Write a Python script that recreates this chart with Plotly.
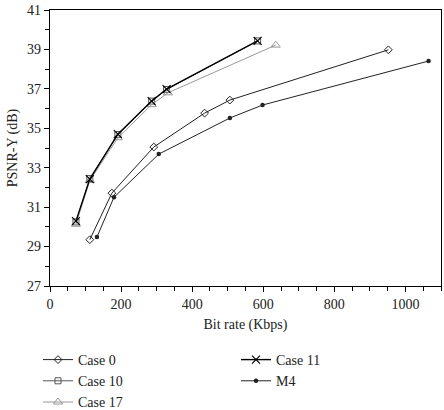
import plotly.graph_objects as go

case0_x = [112, 174, 292, 435, 506, 952]
case0_y = [29.35, 31.71, 34.05, 35.77, 36.43, 38.98]

case10_x = [73, 112, 191, 286, 328, 584]
case10_y = [30.25, 32.45, 34.68, 36.38, 36.97, 39.43]

case17_x = [73, 112, 191, 286, 332, 635]
case17_y = [30.13, 32.35, 34.52, 36.2, 36.8, 39.22]

case11_x = [73, 112, 191, 286, 328, 584]
case11_y = [30.29, 32.42, 34.7, 36.38, 36.99, 39.43]

m4_x = [132, 180, 306, 506, 598, 1065]
m4_y = [29.48, 31.5, 33.69, 35.52, 36.18, 38.41]

FONT = "'Liberation Serif', 'Times New Roman', serif"

fig = go.Figure()
fig.add_trace(go.Scatter(x=case0_x, y=case0_y, name="Case 0", mode="lines+markers",
    line=dict(color="#222", width=1),
    marker=dict(symbol="diamond-open", size=6, color="#222", line=dict(width=1)),
    legend="legend"))
fig.add_trace(go.Scatter(x=case10_x, y=case10_y, name="Case 10", mode="lines+markers",
    line=dict(color="#555", width=1),
    marker=dict(symbol="square-open", size=6, color="#555", line=dict(width=1)),
    legend="legend"))
fig.add_trace(go.Scatter(x=case17_x, y=case17_y, name="Case 17", mode="lines+markers",
    line=dict(color="#999", width=1),
    marker=dict(symbol="triangle-up-open", size=8, color="#999", line=dict(width=1)),
    legend="legend"))
fig.add_trace(go.Scatter(x=case11_x, y=case11_y, name="Case 11", mode="lines+markers",
    line=dict(color="#000", width=1.4),
    marker=dict(symbol="x-thin-open", size=8, color="#000", line=dict(width=1.2)),
    legend="legend2"))
fig.add_trace(go.Scatter(x=m4_x, y=m4_y, name="M4", mode="lines+markers",
    line=dict(color="#222", width=1),
    marker=dict(symbol="circle", size=4.5, color="#222"),
    legend="legend2"))

axis_common = dict(showline=True, linecolor="black", linewidth=1.2, mirror=True,
                   showgrid=False, zeroline=False, ticks="outside", ticklen=5,
                   tickcolor="black", tickwidth=1,
                   tickfont=dict(family=FONT, size=14, color="#222"))

fig.update_xaxes(range=[0, 1100], dtick=200, tick0=0,
                 minor=dict(dtick=50, ticks="outside", ticklen=4, tickcolor="black"),
                 title=dict(text="Bit rate (Kbps)", font=dict(family=FONT, size=14, color="#222"), standoff=8),
                 **axis_common)
fig.update_yaxes(range=[27, 41], dtick=2, tick0=27,
                 minor=dict(dtick=1, ticks="outside", ticklen=4, tickcolor="black"),
                 title=dict(text="PSNR-Y (dB)", font=dict(family=FONT, size=14, color="#222"), standoff=6),
                 **axis_common)

PLOT_H = 410 - 10 - 124
PLOT_W = 444 - 50 - 3
leg = dict(font=dict(family=FONT, size=14, color="#222"), bgcolor="rgba(0,0,0,0)",
           tracegroupgap=0, itemwidth=30, yanchor="top", xanchor="left")
fig.update_layout(
    width=444, height=410,
    margin=dict(l=50, r=3, t=10, b=124, autoexpand=False),
    plot_bgcolor="white", paper_bgcolor="white",
    font=dict(family=FONT, size=14, color="#222"),
    showlegend=True,
    legend=dict(x=(38 - 50) / PLOT_W, y=(286 - 344) / PLOT_H, **leg),
    legend2=dict(x=(236 - 50) / PLOT_W, y=(286 - 344) / PLOT_H, **leg),
)

fig.write_html("out.html")
